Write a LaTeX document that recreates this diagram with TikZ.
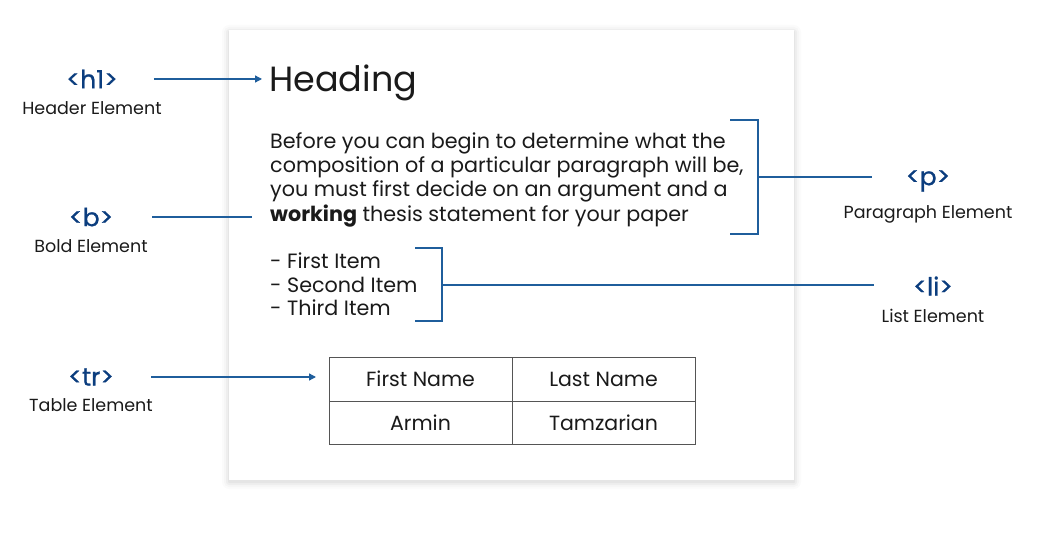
\documentclass[tikz,border=0pt]{standalone}
\usepackage{fontspec}
\setmainfont{Poppins}
\newfontfamily\tagfont[FakeBold=0.8]{Poppins}
\usepackage{tikz}
\usetikzlibrary{arrows.meta,positioning}
\definecolor{TagBlue}{HTML}{0B3D7E}
\definecolor{LinkBlue}{HTML}{1F5E9C}
\definecolor{GridGray}{HTML}{555555}
\definecolor{InkDark}{HTML}{1A1A1A}

\begin{document}
\begin{tikzpicture}[
    x=1pt, y=-1pt,
    node distance=13pt,
    tag/.style={text=TagBlue, inner sep=0pt, font=\tagfont\fontsize{25}{28}\selectfont},
    desc/.style={text=InkDark, inner sep=0pt, font=\fontsize{17.5}{20}\selectfont},
    body/.style={text=InkDark, inner sep=0pt, anchor=base west, font=\fontsize{20.7}{24}\selectfont},
    cell/.style={rectangle, draw=GridGray, line width=0.9pt, text=InkDark, inner sep=0pt, outer sep=0pt, minimum width=183pt, minimum height=44pt, font=\fontsize{20.5}{24}\selectfont},
    link/.style={draw=LinkBlue, line width=1.3pt},
    arrow/.style={link, -{Triangle[length=7pt, width=7pt]}}
]
\useasboundingbox (0,0) rectangle (1043,534);

% Page card with a soft shadow
\foreach \s/\o in {7/0.015, 5/0.02, 3/0.03, 1/0.04}
    \fill[black, opacity=\o, rounded corners=\s pt] (229-\s,30-\s+2) rectangle (794+\s,480+\s+2);
\fill[white] (229,30) rectangle (794,480);

% Page content
\node[body, font=\fontsize{35}{40}\selectfont] (heading) at (269,92) {Heading};
\node[body] (para1) at (270,149) {Before you can begin to determine what the};
\node[body] (para2) at (270,173) {composition of a particular paragraph will be,};
\node[body] (para3) at (270,197) {you must first decide on an argument and a};
\node[body] (para4) at (270,222) {{\bfseries working} thesis statement for your paper};
\node[body] (item1) at (270,269) {- First Item};
\node[body] (item2) at (270,293) {- Second Item};
\node[body] (item3) at (270,316) {- Third Item};

% Table
\node[cell, anchor=north west] (first) at (329,357) {First Name};
\node[cell, right=0pt of first] (last) {Last Name};
\node[cell, below=0pt of first, minimum height=43pt] (armin) {Armin};
\node[cell, right=0pt of armin, minimum height=43pt] (tamz) {Tamzarian};

% Tags on the left
\node[tag] (h1tag) at (92,79) {<h1>};
\node[desc, below=of h1tag] (h1desc) {Header Element};
\node[tag] (btag) at (91,217) {<b>};
\node[desc, below=of btag] (bdesc) {Bold Element};
\node[tag] (trtag) at (91,377) {<tr>};
\node[desc, below=of trtag] (trdesc) {Table Element};

% Tags on the right
\node[tag] (ptag) at (928,181) {<p>};
\node[desc, below=of ptag] (pdesc) {Paragraph Element};
\node[tag] (litag) at (933,286) {<li>};
\node[desc, below=of litag] (lidesc) {List Element};

% Brackets
\draw[link] (730,120) -| (758,234) -- (730,234);
\coordinate (pbr) at (758,177);
\draw[link] (415,248) -| (442,321) -- (415,321);
\coordinate (libr) at (442,285);

% Connections
\draw[arrow, shorten <=36pt, shorten >=7pt] (h1tag.east) -- (h1tag.east -| heading.west);
\draw[link, shorten <=39pt, shorten >=18pt] (btag.east) -- (btag.east -| para4.west);
\draw[arrow, shorten <=37pt, shorten >=13pt] (trtag.east) -- (trtag.east -| first.west);
\draw[link, shorten >=34pt] (pbr) -- (pbr -| ptag.west);
\draw[link, shorten >=39pt] (libr) -- (libr -| litag.west);

\end{tikzpicture}
\end{document}
